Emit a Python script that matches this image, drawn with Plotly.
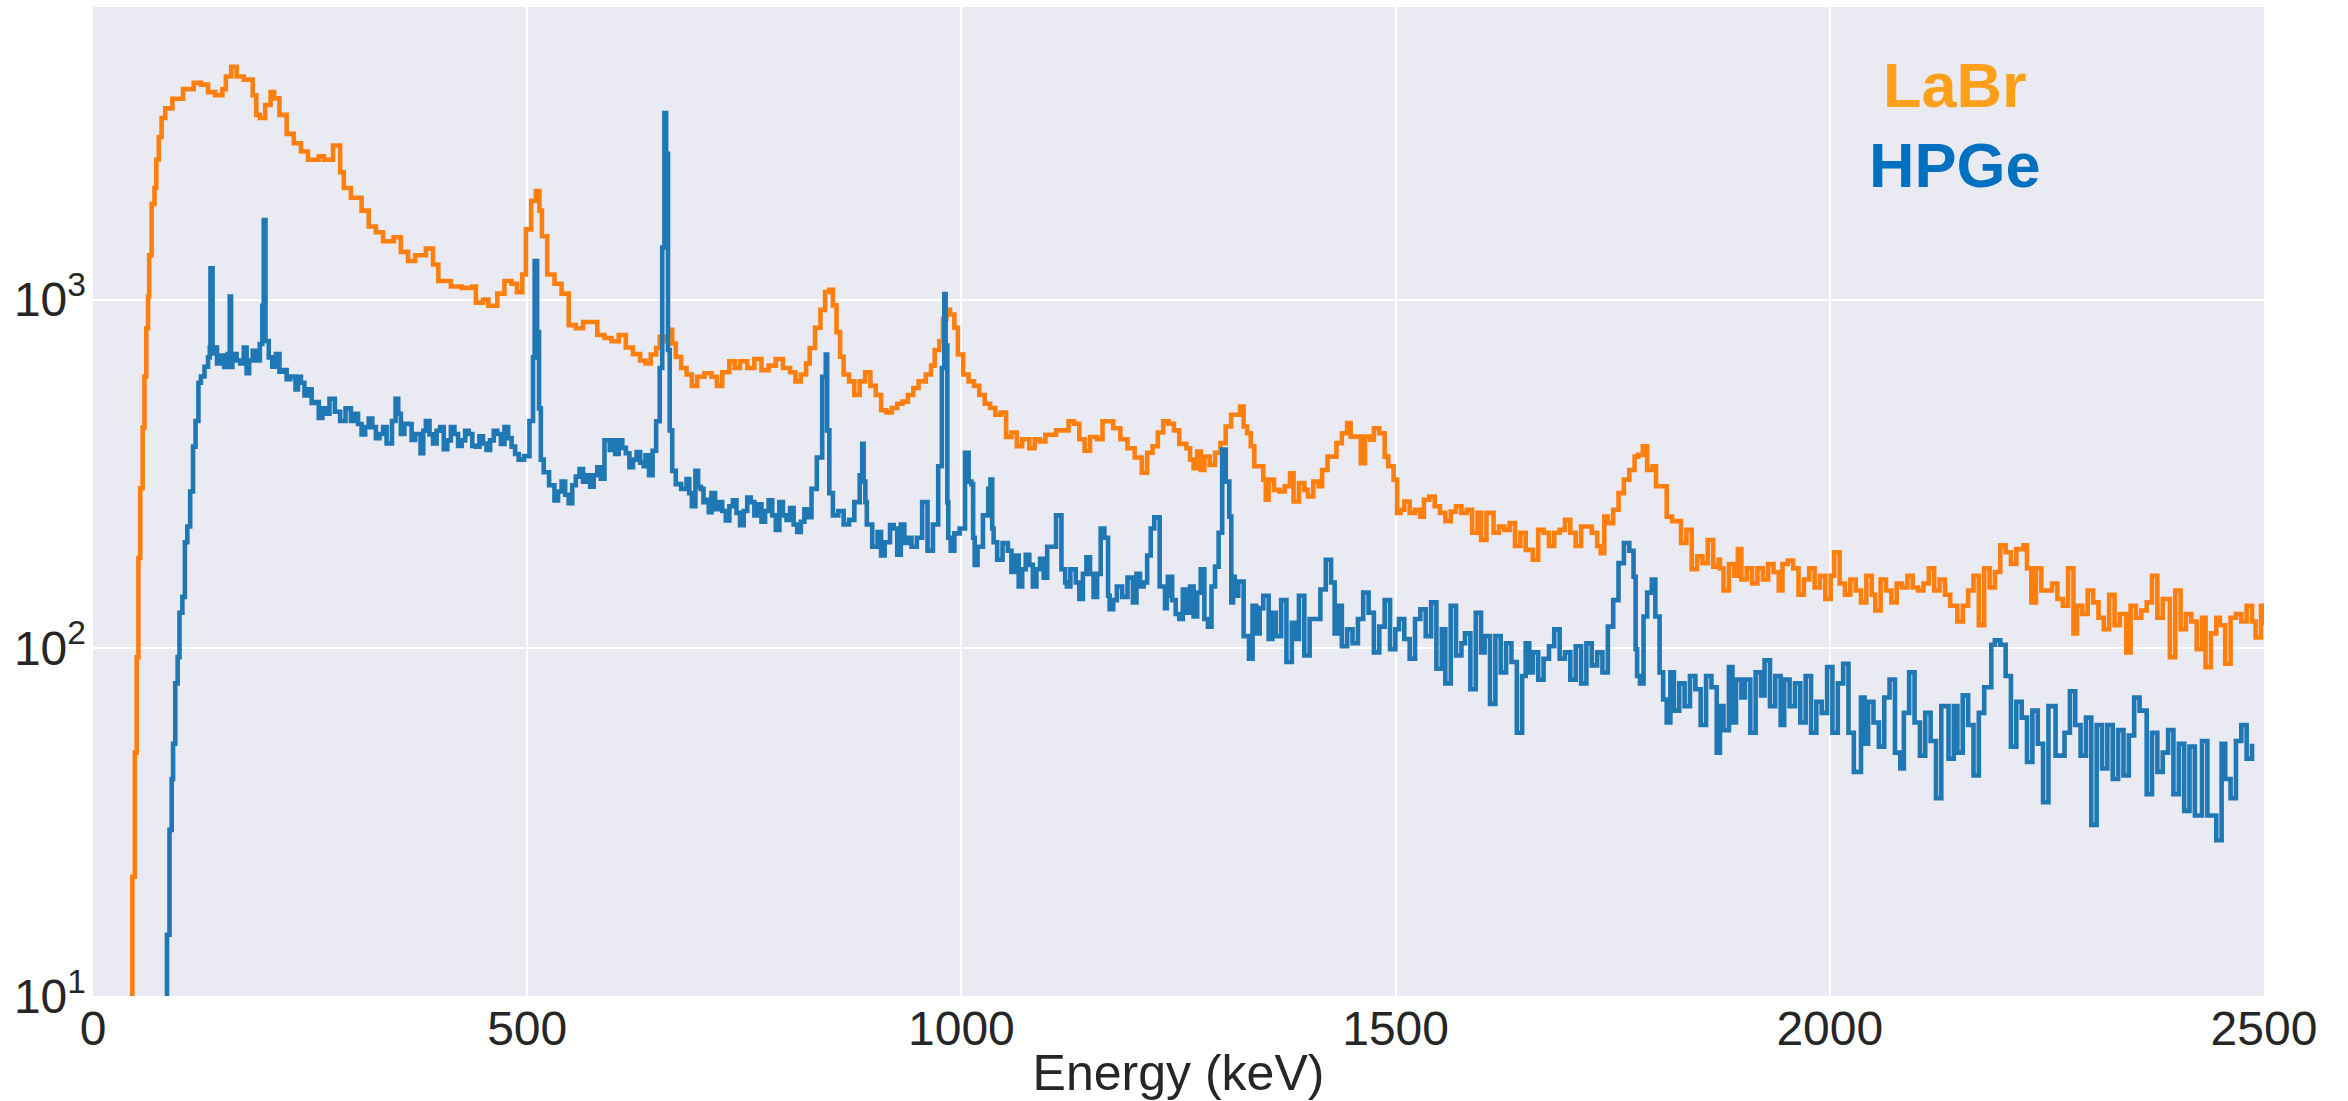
import plotly.graph_objects as go

# ---------------- data ----------------
labr_energy = [
    44.0, 45.3, 48.2, 50.3, 52.3, 54.4, 57.2, 59.3, 61.4, 63.4, 64.7, 67.5, 70.8, 72.9, 75.8, 79.0,
    83.2, 91.4, 103.7, 116.0, 124.3, 132.5, 140.7, 149.0, 153.0, 159.2, 165.4, 173.6, 179.8, 183.9,
    188.0, 192.1, 198.3, 204.5, 208.6, 214.7, 223.0, 231.2, 239.4, 247.6, 260.0, 266.1, 276.4, 284.6,
    288.8, 297.0, 309.3, 317.5, 325.8, 334.0, 346.3, 354.5, 362.8, 371.0, 383.3, 391.6, 397.7, 403.9,
    412.1, 424.5, 436.8, 440.9, 449.1, 455.3, 465.6, 473.8, 482.0, 488.2, 494.4, 498.5, 504.6, 510.0,
    514.1, 517.0, 523.1, 531.4, 539.6, 547.8, 556.0, 564.3, 572.5, 580.7, 589.0, 597.2, 605.4, 613.6,
    621.8, 630.0,
    636.2, 642.3, 648.5, 652.6, 658.8, 662.9, 667.0, 671.1, 677.3, 683.5, 689.6, 695.8, 704.0, 712.2,
    718.4, 724.6, 732.8, 739.0, 745.1, 753.4, 761.6, 769.8, 778.0, 786.3, 794.5, 802.7, 808.9, 815.0,
    821.2, 825.3, 831.5, 837.7, 843.0, 847.9, 852.0, 856.2, 860.3, 864.4, 870.6, 876.7, 882.9, 889.1,
    895.2, 901.4, 907.6, 913.7, 919.9, 926.1, 932.2, 938.4, 944.6, 950.7, 959.0, 965.1, 969.2, 974.6,
    978.7, 982.8, 986.9, 991.9, 996.0, 1002.1, 1008.3, 1014.5, 1020.6, 1026.8, 1033.0, 1039.1, 1045.3,
    1051.5, 1057.6, 1063.8, 1070.0, 1078.2, 1084.4, 1090.5, 1096.7, 1102.9, 1109.0, 1115.2, 1123.4,
    1129.6, 1135.8, 1141.9, 1148.1, 1156.3, 1162.5, 1168.7, 1174.8, 1183.1, 1191.3, 1199.5, 1207.7,
    1213.9, 1220.1, 1226.2, 1232.4, 1238.6, 1244.7, 1250.9, 1259.1,
    1263.3, 1267.4, 1271.5, 1275.6, 1279.8, 1285.9, 1292.1, 1298.3, 1304.4, 1310.6, 1316.8, 1320.9,
    1325.0, 1329.1, 1333.2, 1337.3, 1343.5, 1347.6, 1350.5, 1353.8, 1360.0, 1366.1, 1372.3, 1378.4,
    1382.5, 1388.7, 1394.9, 1399.0, 1405.2, 1411.3, 1415.4, 1421.6, 1427.8, 1431.9, 1438.1, 1444.2,
    1448.3, 1454.5, 1459.9, 1464.8, 1471.0, 1475.0, 1481.2, 1487.4, 1491.5, 1497.7, 1501.8, 1505.9,
    1510.0, 1516.2, 1522.4, 1528.5, 1532.6, 1538.8, 1545.0, 1551.1, 1557.3, 1563.5, 1569.6, 1575.8,
    1582.0, 1588.1, 1594.3, 1598.4, 1604.6, 1612.8, 1619.0, 1625.2, 1631.3, 1637.5, 1643.7, 1649.8,
    1658.0, 1664.2, 1670.4, 1676.6, 1682.7, 1688.9, 1695.0, 1701.2, 1707.4, 1713.6, 1719.7, 1725.9,
    1732.1, 1736.2, 1740.3, 1744.4, 1750.6, 1756.7, 1762.9, 1769.1, 1775.2, 1779.4, 1784.7, 1789.7,
    1795.8, 1799.9, 1806.1, 1812.2, 1818.4, 1824.6, 1828.7, 1834.9, 1841.0, 1847.2, 1853.4, 1859.5,
    1865.7, 1871.9,
    1873.5, 1877.6, 1883.8, 1890.0, 1894.1, 1898.2, 1904.3, 1910.5, 1916.7, 1922.9, 1929.0, 1935.2,
    1941.3, 1945.5, 1951.6, 1957.8, 1964.0, 1970.1, 1976.3, 1982.5, 1988.6, 1994.8, 2001.0, 2005.1,
    2011.3, 2017.4, 2023.6, 2029.8, 2035.9, 2042.1, 2048.3, 2052.4, 2058.5, 2064.7, 2070.9, 2077.0,
    2083.2, 2089.4, 2095.5, 2101.7, 2107.9, 2114.0, 2120.2, 2126.4, 2132.6, 2138.7, 2146.9, 2153.1,
    2159.3, 2165.5, 2171.6, 2177.8, 2184.0, 2190.1, 2196.3, 2202.5, 2208.6, 2214.8, 2223.0, 2227.1,
    2232.1, 2237.4, 2243.6, 2249.8, 2255.9, 2262.1, 2268.3, 2274.4, 2280.6, 2284.7, 2290.9, 2297.0,
    2303.2, 2309.4, 2315.5, 2321.7, 2327.9, 2334.0, 2341.4, 2346.4, 2352.5, 2358.7, 2364.9, 2371.0,
    2377.2, 2383.4, 2391.6, 2397.8, 2404.0, 2410.1, 2416.3, 2422.5, 2428.6, 2432.7, 2438.9, 2445.1,
    2449.2, 2455.3, 2461.5, 2467.7, 2473.9, 2480.0, 2486.2, 2490.3, 2496.5, 2500.0,
]
labr_counts = [
    2, 22, 50, 94, 181, 287, 429, 601, 827, 1020, 1340, 1880, 2090, 2520, 2930, 3320,
    3540, 3770, 4020, 4190, 4140, 3940, 3860, 4020, 4370, 4660, 4370, 4280, 4280, 3860,
    3390, 3320, 3620, 3940, 3780, 3390, 2990, 2810, 2660, 2520, 2580, 2520, 2770, 2320,
    2090, 1960, 1800, 1620, 1560, 1470, 1510, 1370, 1290, 1340, 1400, 1260, 1130, 1130,
    1090, 1080, 1090, 980, 1000, 960, 1040, 1130, 1110, 1050, 1180, 1590, 1920, 2050,
    1800, 1520, 1180, 1110, 1040, 844, 827, 862, 862, 791, 775, 759, 791, 728,
    697, 668,
    655, 695, 726, 782, 759, 818, 748, 685, 636, 609, 565, 600, 614, 600,
    565, 618, 665, 636, 665, 636, 675, 627, 646, 675, 636, 618, 582, 609,
    655, 726, 830, 934, 1051, 1067, 962, 806, 685, 609, 582, 532, 582, 618,
    565, 532, 481, 474, 488, 502, 509, 532, 557, 582, 609, 646, 716, 759,
    880, 934, 906, 830, 695, 609, 582, 565, 532, 502, 488, 467, 474,
    403, 415, 379, 397, 374, 397, 391, 409, 409, 421, 421, 447,
    440, 397, 368, 403, 397, 447, 447, 427, 397, 374, 352, 318,
    363, 379, 415, 447, 440, 421, 385, 374,
    347, 328, 366, 324, 354, 335, 363, 387, 432, 467, 467, 493,
    432, 413, 379, 332, 332, 304, 266, 304, 284, 281, 291, 317,
    263, 297, 284, 272, 300, 291, 324, 354, 354, 387, 413, 442,
    404, 404, 339, 404, 396, 427, 413, 354, 332, 304, 244, 249,
    263, 244, 249, 238, 266, 272, 255, 244, 231, 246, 255, 244,
    249, 214, 244, 204, 244, 214, 223, 218, 228, 196, 214, 191,
    179, 218, 214, 196, 214, 218, 233, 214, 196, 223, 223, 214,
    196, 187, 238, 228, 249, 278, 304, 324, 354, 358, 379, 324,
    332, 291, 291, 238, 231, 231, 200, 218, 168, 183, 175, 204,
    171, 179,
    169, 146, 174, 161, 192, 157, 169, 153, 169, 157, 174, 165,
    146, 174, 178, 169, 142, 157, 169, 149, 161, 138, 161, 188,
    153, 142, 157, 146, 135, 161, 142, 128, 157, 146, 135, 153,
    149, 161, 149, 146, 153, 169, 146, 157, 142, 132, 119, 132,
    146, 161, 116, 169, 149, 165, 197, 188, 174, 192, 197, 169,
    135, 169, 146, 146, 153, 138, 132, 169, 110, 132, 125, 146,
    135, 122, 113, 142, 116, 125, 97, 132, 122, 128, 135, 161,
    122, 138, 94, 146, 113, 125, 119, 99, 122, 88, 110, 122,
    116, 90, 122, 125, 119, 132, 119, 107, 132, 116,
]

hpge_energy = [
    84.0, 85.2, 88.1, 90.6, 92.2, 94.7, 97.5, 99.6, 102.9, 105.8, 108.6, 111.9, 115.2, 118.1,
    121.4, 124.3, 128.4, 132.5, 134.5, 135.3, 137.7, 138.7, 142.8, 146.9, 151.0, 155.1, 157.5,
    159.0, 160.5, 165.4, 169.5, 173.6, 176.9, 179.8, 183.9, 188.0, 192.1, 195.0, 196.6, 198.6,
    202.4, 206.5, 210.6, 214.7, 218.8, 223.0, 227.1, 233.2, 236.0, 239.4, 243.5, 247.6, 251.8,
    255.9, 260.0, 264.1, 268.2, 272.3, 278.5, 284.6, 290.8, 297.0, 301.1, 305.2, 309.3, 313.4,
    317.5, 321.6, 325.8, 329.9, 334.0, 338.1, 344.3, 348.4, 351.5, 354.5, 358.6, 362.8, 366.9,
    371.0, 377.2, 380.3, 383.3, 387.5, 391.6, 395.7, 399.8, 403.9, 408.0, 412.1, 416.2, 420.4,
    424.5, 428.6, 432.7, 436.8, 440.9, 445.0, 449.1, 453.2, 457.3, 461.5, 465.6, 469.7, 473.8,
    478.0, 482.0, 486.1, 490.2, 496.4, 502.6, 506.7, 508.6, 511.4, 513.6, 515.7, 519.0, 525.2,
    531.4, 535.5, 539.6, 543.7, 547.8, 551.9, 556.0, 560.2, 564.3, 568.4, 572.5, 576.6, 580.7,
    584.8, 589.0, 595.1, 598.2, 601.3, 605.4, 609.5, 613.6, 617.7, 621.9, 626.0, 630.1, 634.2,
    636.2, 640.3, 644.4, 648.5, 652.6, 655.5, 658.0, 660.0, 662.1, 664.1, 667.0, 671.1, 677.3,
    683.5, 686.6, 689.6, 693.7, 696.8, 699.9, 703.0, 706.1, 709.1, 712.2, 716.4, 720.5, 724.6,
    728.7, 732.8, 736.9, 741.0, 745.1, 749.3, 753.4, 757.5, 761.6, 765.7, 769.8, 773.9, 778.0,
    782.2, 786.3, 790.4, 794.5, 798.6, 802.7, 806.8, 810.9, 815.1, 819.2, 823.3, 827.4, 833.5,
    839.7, 843.8, 845.4, 847.9, 852.0, 858.2, 864.4, 870.6, 876.7, 882.9, 885.8, 887.4, 889.4,
    891.1, 897.3, 903.4, 907.5, 911.7, 917.8, 922.0, 926.1, 930.2, 934.3, 938.4, 942.5, 948.7,
    954.8, 961.0, 967.2, 973.3, 977.5, 980.3, 981.8, 983.8, 984.9, 987.7, 991.9, 998.0, 1004.2,
    1008.3, 1011.5, 1013.5, 1015.3, 1018.6, 1024.8, 1030.9, 1033.5, 1035.5, 1037.1, 1041.2, 1047.4,
    1053.5, 1057.6, 1061.8, 1066.0, 1070.0, 1074.1, 1078.2, 1082.3, 1086.4, 1090.6, 1094.7, 1098.8,
    1102.9, 1109.0, 1115.2, 1119.5, 1121.4, 1125.5, 1131.7, 1135.8, 1139.9, 1144.0, 1148.1, 1152.2,
    1156.3, 1160.4, 1164.6, 1168.9, 1170.7, 1174.8, 1179.0, 1185.1, 1191.3, 1197.5, 1201.6, 1205.7,
    1209.8, 1213.9, 1218.0, 1222.1, 1228.3, 1234.5, 1236.5, 1237.8, 1242.7, 1246.8, 1250.9, 1255.0,
    1259.1,
    1263.3, 1267.4, 1271.5, 1275.6, 1279.8, 1283.9, 1288.0, 1292.1, 1296.2, 1300.3, 1304.4, 1308.5,
    1310.8, 1312.8, 1314.7, 1318.8, 1325.0, 1331.2, 1335.3, 1339.4, 1343.5, 1347.6, 1353.8, 1358.0,
    1362.0, 1368.2, 1374.3, 1380.5, 1384.6, 1388.7, 1394.9, 1401.0, 1407.2, 1413.4, 1419.6, 1425.7,
    1429.8, 1433.9, 1438.1, 1444.2, 1450.4, 1456.6, 1462.7, 1468.9, 1475.0, 1481.2, 1487.4, 1493.6,
    1499.7, 1503.9, 1510.0, 1516.2, 1522.4, 1528.5, 1534.7, 1540.9, 1547.0, 1553.2, 1557.3, 1563.5,
    1569.6, 1575.8, 1579.9, 1586.1, 1592.3, 1598.4, 1602.5, 1608.7, 1614.9, 1621.0, 1627.2, 1633.4,
    1639.6, 1645.7, 1649.8, 1653.9, 1658.0, 1664.2, 1670.4, 1676.6, 1682.7, 1688.9, 1695.0, 1701.2,
    1707.4, 1713.6, 1719.7, 1725.9, 1732.1, 1738.2, 1744.4, 1750.6, 1756.7, 1762.9, 1769.1, 1774.0,
    1776.4, 1778.1, 1781.4, 1785.5, 1789.7, 1795.0, 1799.1, 1804.0, 1808.1, 1812.2, 1816.4, 1820.5,
    1826.6, 1832.8, 1839.0, 1845.2, 1851.3, 1857.5, 1863.7, 1869.8,
    1873.5, 1877.6, 1883.8, 1887.9, 1892.0, 1898.2, 1902.3, 1908.5, 1914.6, 1920.8, 1924.9, 1931.1,
    1937.2, 1943.4, 1947.5, 1953.7, 1959.9, 1966.0, 1972.2, 1978.4, 1984.5, 1990.7, 1996.9, 2003.0,
    2009.2, 2015.4, 2021.5, 2027.7, 2035.9, 2040.0, 2044.1, 2050.3, 2056.5, 2062.7, 2068.8, 2075.0,
    2081.2, 2085.3, 2091.4, 2097.6, 2103.8, 2109.9, 2116.1, 2122.3, 2128.4, 2136.7, 2142.8, 2146.9,
    2153.1, 2159.3, 2165.5, 2171.6, 2177.8, 2186.0, 2190.1, 2196.3, 2202.5, 2208.6, 2214.8, 2221.0,
    2227.1, 2233.3, 2239.5, 2245.6, 2251.8, 2260.0, 2270.3, 2276.5, 2282.6, 2288.8, 2295.0, 2301.1,
    2307.3, 2313.5, 2319.6, 2325.8, 2332.0, 2338.2, 2344.3, 2350.5, 2356.7, 2364.9, 2371.0, 2377.2,
    2383.4, 2389.6, 2395.7, 2401.9, 2408.1, 2414.2, 2420.4, 2428.6, 2434.8, 2445.1, 2451.2, 2455.3,
    2461.5, 2467.7, 2473.9, 2480.0, 2486.2, 2492.3, 2496.5, 2500.0,
]
hpge_counts = [
    2, 15, 30, 42, 53, 79, 94, 126, 140, 201, 223, 281, 378, 448,
    577, 601, 641, 682, 728, 1230, 700, 728, 655, 690, 640, 697, 1020,
    640, 697, 668, 655, 728, 614, 668, 712, 668, 745, 960, 1690, 760,
    682, 641, 697, 620, 627, 590, 601, 552, 600, 577, 530, 552, 505,
    508, 457, 487, 470, 519, 476, 448, 487, 448, 470, 439, 410, 430,
    455, 430, 400, 411, 430, 386, 448, 519, 470, 411, 440, 439, 395,
    411, 362, 420, 448, 410, 386, 420, 430, 372, 394, 430, 411, 380,
    394, 420, 411, 380, 378, 405, 386, 370, 394, 420, 411, 385, 430,
    400, 378, 360, 347, 355, 448, 682, 1290, 807, 487, 347, 319,
    293, 265, 281, 300, 275, 260, 293, 310, 326, 300, 313, 290, 313,
    330, 306, 394, 370, 394, 360, 394, 375, 362, 330, 347, 365, 340,
    332, 357, 313, 368, 447, 636, 1410, 3430, 2620, 716, 421, 322, 295,
    286, 305, 278, 255, 322, 290, 286, 262, 266, 245, 278, 250, 262,
    247, 232, 255, 265, 244, 225, 247, 270, 262, 240, 258, 230, 247,
    265, 240, 218, 262, 240, 233, 252, 226, 215, 230, 250, 237, 286,
    352, 600, 695, 421, 278, 240, 247, 226, 233, 262, 313, 385, 300,
    262, 226, 195, 215, 184, 201, 225, 220, 185, 226, 200, 207, 195,
    207, 262, 190, 226, 332, 636, 1036, 738, 262, 207, 190, 213,
    220, 363, 300, 295, 207, 173, 195, 240, 286, 304, 220, 201,
    179, 200, 190, 165, 184, 150, 168, 185, 173, 150, 168, 180,
    159, 195, 195, 240, 168, 154, 150, 168, 154, 138, 163, 182,
    163, 140, 163, 220, 207, 141, 129, 137, 150, 140, 159,
    135, 163, 150, 154, 184, 220, 237, 150, 130, 141, 160, 137,
    125,
    121, 147, 126, 150, 123, 144, 168, 121, 115, 150, 171, 214,
    371, 300, 238, 135, 160, 141, 155, 108, 93, 132, 110, 130,
    141, 106, 126, 108, 137, 91, 118, 106, 141, 95, 121, 121,
    147, 179, 154, 110, 132, 101, 113, 103, 121, 144, 126, 97,
    115, 137, 99, 113, 121, 106, 93, 121, 129, 108, 135, 87,
    113, 79, 132, 95, 103, 110, 76, 126, 97, 108, 69, 108,
    85, 103, 91, 57, 83, 103, 85, 97, 81, 93, 101, 113,
    93, 97, 81, 101, 79, 103, 89, 97, 85, 115, 137, 175,
    200, 190, 160, 99, 83, 79, 123, 144, 157, 123, 85, 71,
    61, 85, 66, 79, 68, 83, 76, 60,
    83, 77, 50, 68, 58, 88, 61, 81, 72, 81, 57, 85,
    73, 92, 68, 83, 60, 81, 68, 79, 61, 83, 57, 70,
    65, 88, 57, 79, 90, 57, 44, 72, 53, 70, 61, 52,
    72, 81, 50, 45, 65, 85, 61, 49, 65, 54, 37, 68,
    48, 68, 50, 73, 60, 43, 65, 77, 102, 105, 102, 83,
    52, 70, 63, 47, 66, 53, 36, 68, 49, 57, 75, 60,
    49, 63, 31, 60, 45, 60, 42, 58, 43, 56, 72, 66,
    38, 57, 44, 50, 58, 38, 53, 34, 52, 33, 54, 33,
    28, 53, 42, 37, 54, 60, 48, 53,
]

x_ticks = [0, 500, 1000, 1500, 2000, 2500]
y_ticks = [10, 100, 1000]
y_tick_text = ["10<sup>1</sup>", "10<sup>2</sup>", "10<sup>3</sup>"]

# ---------------- figure ----------------
fig = go.Figure()
fig.add_trace(go.Scatter(
    x=labr_energy, y=labr_counts, mode="lines", name="LaBr",
    line=dict(color="#ff7f0e", width=4.6, shape="hv"),
))
fig.add_trace(go.Scatter(
    x=hpge_energy, y=hpge_counts, mode="lines", name="HPGe",
    line=dict(color="#1f77b4", width=4.6, shape="hv"),
))

tick_font = dict(family="Liberation Sans, Arial, sans-serif", size=48, color="#262626")
title_font = dict(family="Liberation Sans, Arial, sans-serif", size=50, color="#262626")

fig.update_layout(
    width=2348, height=1101,
    margin=dict(l=93, r=84, t=7, b=105, pad=0),
    paper_bgcolor="white",
    plot_bgcolor="#EAEAF2",
    showlegend=False,
    xaxis=dict(
        range=[0, 2500], tickvals=x_ticks, ticktext=[str(v) for v in x_ticks],
        showgrid=True, gridcolor="white", gridwidth=1.5, zeroline=False,
        showline=False, ticks="", tickfont=tick_font,
        title=dict(text="Energy (keV)", font=title_font, standoff=4),
    ),
    yaxis=dict(
        type="log", range=[1, 3.84], tickvals=y_ticks, ticktext=y_tick_text,
        showgrid=True, gridcolor="white", gridwidth=1.5, zeroline=False,
        showline=False, ticks="", tickfont=tick_font, ticklabelstandoff=6,
    ),
    annotations=[
        dict(text="<b>LaBr</b>", xref="paper", yref="paper", x=0.8577, y=0.9216,
             xanchor="center", yanchor="middle", showarrow=False,
             font=dict(family="Liberation Sans, Arial, sans-serif", size=63, color="#FF9F1A")),
        dict(text="<b>HPGe</b>", xref="paper", yref="paper", x=0.8577, y=0.8406,
             xanchor="center", yanchor="middle", showarrow=False,
             font=dict(family="Liberation Sans, Arial, sans-serif", size=63, color="#0070C0")),
    ],
)

fig.write_html("out.html")
